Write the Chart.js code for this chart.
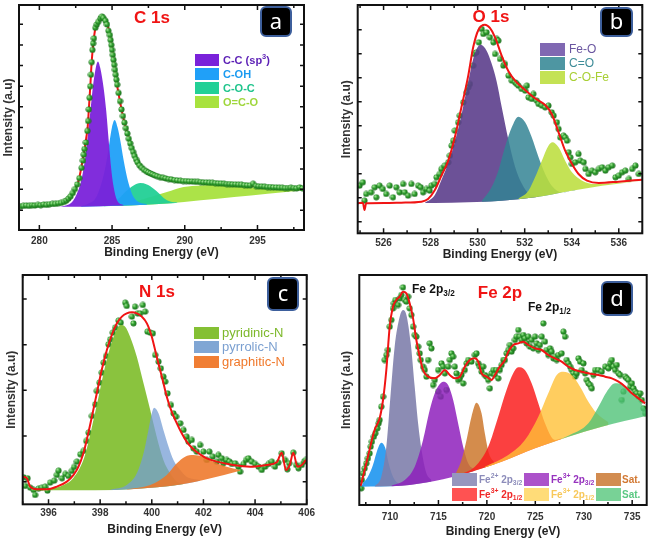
<!DOCTYPE html>
<html>
<head>
<meta charset="utf-8">
<script src="https://cdn.jsdelivr.net/npm/chart.js@4.4.1/dist/chart.umd.min.js"></script>
<style>
  body { margin: 0; background: #fff; width: 669px; height: 540px; position: relative; overflow: hidden; }
  canvas { position: absolute; }
</style>
</head>
<body>
<canvas id="panelA" width="335" height="270" style="left:0;top:0;width:335px;height:270px"></canvas>
<canvas id="panelB" width="334" height="270" style="left:335px;top:0;width:334px;height:270px"></canvas>
<canvas id="panelC" width="335" height="270" style="left:0;top:270px;width:335px;height:270px"></canvas>
<canvas id="panelD" width="334" height="270" style="left:335px;top:270px;width:334px;height:270px"></canvas>
<script>
// ---- panel a : C 1s ----
const aXTicks = [280, 285, 290, 295];
const aXMinor = [282.5, 287.5, 292.5, 297.5];
const aYTicks = [60, 123, 185, 248, 310, 373, 435, 498, 560, 623];
const aEnvelope = [[278.69,73],[280.76,78],[281.67,84],[282.02,95],[282.25,108],[282.47,125],[282.70,150],[282.89,190],[283.09,240],[283.23,280],[283.32,310],[283.41,370],[283.51,440],[283.60,510],[283.71,565],[283.85,610],[284.03,630],[284.26,644],[284.47,640],[284.65,625],[284.83,595],[284.99,550],[285.15,500],[285.34,440],[285.52,395],[285.70,355],[285.91,315],[286.14,278],[286.37,245],[286.60,218],[286.90,195],[287.29,180],[287.74,170],[288.32,160],[289.23,152],[290.38,147],[291.75,143],[293.36,138],[294.73,134],[296.11,129],[297.25,127],[298.17,126]];
const aBackground = [[278.6,70],[281.2,70],[284.2,72],[286.5,75],[288.8,80],[291.1,90],[293.4,100],[295.7,110],[298.2,120]];
const aCC = [[281.33,70],[281.67,73],[282.25,85],[282.63,115],[282.93,160],[283.16,220],[283.34,290],[283.51,360],[283.73,450],[284.03,510],[284.19,490],[284.42,430],[284.60,360],[284.77,270],[284.93,190],[285.11,130],[285.34,90],[285.80,75]];
const aCOH = [[282.82,71],[283.28,78],[283.85,95],[284.19,130],[284.54,190],[284.77,250],[284.99,310],[285.18,333],[285.38,310],[285.57,270],[285.80,210],[286.03,160],[286.25,125],[286.48,100],[286.83,85],[287.40,78]];
const aCOC = [[284.42,73],[285.11,85],[285.57,100],[286.03,120],[286.48,135],[286.94,142],[287.40,138],[287.86,125],[288.20,112],[288.55,97],[289.00,86],[289.50,83]];
const aOCO = [[284.88,73],[286.48,85],[287.63,100],[288.77,115],[289.92,130],[291.07,135],[292.21,137],[293.36,135],[294.50,130],[295.65,125],[297.02,122],[298.20,120]];
const aDots = [[278.7,72],[278.9,73],[279.1,74],[279.3,73],[279.5,75],[279.7,74],[279.9,76],[280.1,75],[280.3,77],[280.5,76],[280.7,78],[280.9,79],[281.1,79],[281.3,81],[281.5,82],[281.7,85],[281.85,89],[282.0,95],[282.15,102],[282.3,112],[282.45,124],[282.6,138],[282.75,157],[282.9,188],[283.0,210],[283.05,228],[283.1,245],[283.2,265],[283.3,300],[283.35,330],[283.4,365],[283.45,400],[283.5,435],[283.55,470],[283.6,508],[283.65,545],[283.7,565],[283.75,580],[283.85,612],[283.95,622],[284.05,630],[284.2,640],[284.3,646],[284.4,642],[284.55,633],[284.65,622],[284.75,603],[284.85,590],[284.9,575],[284.95,560],[285.0,545],[285.05,530],[285.1,515],[285.15,500],[285.2,485],[285.25,470],[285.3,455],[285.35,440],[285.45,415],[285.55,390],[285.65,365],[285.75,345],[285.85,325],[285.95,308],[286.05,292],[286.15,276],[286.25,262],[286.35,248],[286.45,236],[286.55,224],[286.65,214],[286.75,205],[286.9,195],[287.05,188],[287.2,182],[287.35,178],[287.5,174],[287.65,171],[287.8,168],[287.95,165],[288.1,163],[288.3,160],[288.5,158],[288.7,156],[288.9,154],[289.1,153],[289.3,151],[289.5,150],[289.7,149],[289.9,148],[290.1,148],[290.3,147],[290.5,147],[290.7,146],[290.9,146],[291.1,145],[291.3,144],[291.5,144],[291.7,143],[291.9,143],[292.1,142],[292.3,141],[292.5,141],[292.7,140],[292.9,139],[293.1,139],[293.3,138],[293.5,138],[293.7,137],[293.9,137],[294.1,136],[294.3,135],[294.5,135],[294.7,140],[294.9,133],[295.1,132],[295.3,132],[295.5,131],[295.7,130],[295.9,130],[296.1,129],[296.3,129],[296.5,128],[296.7,128],[296.9,127],[297.1,127],[297.3,128],[297.5,127],[297.7,126],[297.9,129],[298.1,126]];

// ---- panel b : O 1s ----
const bXTicks = [526, 528, 530, 532, 534, 536];
const bXMinor = [525, 527, 529, 531, 533, 535, 537];
const bYTicks = [35, 107, 179, 251, 323, 395, 467, 539, 611];
const bEnvelope = [[524.9,90],[525.12,92],[525.19,70],[525.26,90],[526.04,91],[526.75,92],[527.61,95],[527.89,103],[528.18,130],[528.46,173],[528.75,218],[529.03,288],[529.31,378],[529.60,473],[529.81,558],[530.03,610],[530.31,626],[530.52,616],[530.74,588],[531.02,533],[531.31,486],[531.59,458],[532.02,430],[532.44,405],[532.87,385],[533.15,358],[533.44,303],[533.72,248],[534.01,208],[534.29,178],[534.65,158],[535.15,151],[536.00,155],[537.0,161]];
const bBackground = [[524.9,90],[528.18,91],[531.02,98],[532.44,108],[533.87,126],[535.29,143],[537.0,158]];
const bFeO = [[527.75,91],[528.18,115],[528.46,160],[528.75,210],[529.03,275],[529.31,355],[529.60,455],[529.88,540],[530.13,566],[530.38,548],[530.59,510],[530.81,455],[531.02,380],[531.31,280],[531.59,200],[531.87,150],[532.16,120],[532.59,112]];
const bCO = [[530.17,96],[530.59,138],[530.88,188],[531.16,258],[531.45,318],[531.73,350],[532.02,333],[532.30,288],[532.59,228],[532.87,178],[533.15,143],[533.58,123],[534.15,131]];
const bCOFe = [[531.73,104],[532.16,128],[532.44,168],[532.73,218],[533.01,263],[533.18,273],[533.44,258],[533.72,218],[534.01,183],[534.44,158],[535.00,148],[535.72,150],[537.0,158]];
const bDots = [[524.98,143],[525.12,153],[525.19,98],[525.26,118],[525.47,123],[525.62,138],[525.69,108],[525.83,143],[525.97,133],[526.11,118],[526.26,143],[526.40,108],[526.54,138],[526.68,123],[526.83,148],[526.90,123],[527.04,113],[527.18,148],[527.32,118],[527.47,143],[527.58,138],[527.68,123],[527.82,133],[527.96,128],[528.03,143],[528.18,148],[528.25,168],[528.39,178],[528.46,193],[528.60,203],[528.75,213],[528.82,233],[528.89,263],[528.96,278],[529.03,308],[529.17,333],[529.24,353],[529.39,393],[529.53,423],[529.60,438],[529.67,448],[529.81,503],[529.85,538],[529.95,543],[530.05,573],[530.17,613],[530.24,598],[530.38,603],[530.52,588],[530.67,573],[530.81,583],[530.88,578],[530.74,538],[530.95,523],[531.09,503],[531.16,508],[531.31,473],[531.45,458],[531.59,453],[531.66,448],[531.73,443],[531.87,433],[532.02,428],[532.09,443],[532.16,408],[532.30,403],[532.37,418],[532.51,398],[532.59,388],[532.73,383],[532.87,378],[533.01,383],[533.15,363],[533.23,353],[533.37,333],[533.44,313],[533.51,288],[533.65,293],[533.72,288],[533.80,278],[533.87,243],[533.94,228],[534.01,208],[534.15,213],[534.29,238],[534.36,218],[534.51,213],[534.58,193],[534.72,178],[534.86,188],[535.00,183],[535.15,193],[535.29,198],[535.43,188],[535.57,198],[535.72,203],[535.86,168],[536.00,173],[536.14,183],[536.28,188],[536.43,163],[536.57,193],[536.71,203],[536.85,178]];

// ---- panel c : N 1s ----
const cXTicks = [396, 398, 400, 402, 404, 406];
const cXMinor = [395, 397, 399, 401, 403, 405];
const cYTicks = [68, 205, 342, 479, 616];
const cEnvelope = [[395.01,83],[395.16,78],[395.29,53],[395.55,45],[395.94,45],[396.32,53],[396.71,68],[396.97,88],[397.16,113],[397.35,153],[397.51,203],[397.68,263],[397.87,333],[398.06,403],[398.26,463],[398.45,508],[398.65,543],[398.84,563],[399.03,573],[399.23,576],[399.42,573],[399.61,563],[399.81,543],[400.00,503],[400.19,443],[400.39,383],[400.58,323],[400.77,278],[400.97,243],[401.16,213],[401.35,188],[401.61,165],[401.87,150],[402.13,138],[402.52,128],[403.16,118],[403.81,113],[404.45,118],[404.84,126],[405.03,155],[405.20,103],[405.35,120],[405.48,155],[405.64,113],[405.81,118],[405.97,133]];
const cBackground = [[395.0,41],[397.0,42],[398.6,43],[399.7,48],[400.7,55],[401.4,63],[402.0,73],[402.8,88],[403.55,103],[406.0,140]];
const cPyridinic = [[395.42,43],[396.06,47],[396.58,58],[396.97,80],[397.35,133],[397.55,188],[397.74,253],[397.94,323],[398.13,393],[398.32,453],[398.52,503],[398.71,533],[398.80,538],[398.97,533],[399.16,503],[399.42,443],[399.68,363],[399.94,283],[400.19,203],[400.45,133],[400.71,93],[400.97,68],[401.23,62]];
const cPyrrolic = [[398.39,44],[399.03,58],[399.42,93],[399.68,153],[399.87,223],[400.00,273],[400.09,290],[400.26,273],[400.45,223],[400.65,173],[400.84,133],[401.10,103],[401.35,83],[401.87,73]];
const cGraphitic = [[399.03,45],[399.94,58],[400.58,88],[400.97,123],[401.29,143],[401.61,148],[402.00,143],[402.39,128],[402.90,113],[403.42,103]];
const cDots = [[395.03,81],[395.10,55],[395.19,78],[395.29,50],[395.42,43],[395.48,28],[395.61,47],[395.74,50],[395.87,53],[395.96,41],[396.06,65],[396.22,71],[396.32,88],[396.39,101],[396.52,78],[396.65,91],[396.77,85],[396.90,100],[396.99,112],[397.10,128],[397.23,150],[397.35,160],[397.46,190],[397.55,215],[397.68,265],[397.81,300],[397.87,340],[397.97,365],[398.06,395],[398.13,425],[398.23,445],[398.32,480],[398.39,495],[398.49,515],[398.58,530],[398.71,551],[398.80,545],[398.97,605],[399.03,595],[399.23,563],[399.29,543],[399.35,593],[399.45,573],[399.55,573],[399.65,598],[399.74,578],[399.83,518],[399.94,515],[400.04,513],[400.13,448],[400.26,428],[400.35,408],[400.45,383],[400.52,368],[400.61,333],[400.74,298],[400.84,273],[400.94,263],[401.10,243],[401.23,223],[401.35,203],[401.42,188],[401.55,193],[401.61,168],[401.74,158],[401.87,178],[402.00,158],[402.13,133],[402.23,158],[402.36,143],[402.52,128],[402.58,148],[402.71,138],[402.77,123],[402.90,133],[403.01,128],[403.10,121],[403.23,123],[403.35,113],[403.42,98],[403.55,121],[403.65,133],[403.74,138],[403.87,128],[404.00,121],[404.13,113],[404.26,103],[404.39,113],[404.52,121],[404.65,128],[404.77,113],[404.90,125],[405.03,153],[405.16,133],[405.25,105],[405.32,123],[405.48,155],[405.59,118],[405.68,108],[405.81,118],[405.90,128],[405.97,133]];

// ---- panel d : Fe 2p ----
const dXTicks = [710, 715, 720, 725, 730, 735];
const dXMinor = [707.5, 712.5, 717.5, 722.5, 727.5, 732.5];
const dEnvelope = [[706.97,57],[707.72,145],[708.41,225],[708.93,260],[709.28,315],[709.62,405],[709.97,535],[710.31,595],[710.66,615],[711.00,625],[711.34,640],[711.69,635],[712.03,605],[712.38,560],[712.72,495],[713.07,445],[713.41,405],[713.93,385],[714.62,380],[715.14,390],[715.66,405],[716.17,390],[716.69,380],[717.21,385],[717.72,415],[718.24,435],[718.76,440],[719.10,430],[719.45,395],[719.97,385],[720.48,375],[720.83,390],[721.34,415],[721.86,435],[722.21,460],[722.72,480],[723.24,485],[723.76,490],[724.28,480],[724.97,470],[725.66,465],[726.34,450],[727.03,440],[727.72,430],[728.41,415],[729.10,405],[729.79,400],[730.48,395],[731.52,390],[732.21,385],[732.90,380],[733.59,370],[734.28,355],[734.97,335],[735.66,320],[736.34,305]];
const dBackground = [[706.8,55],[711.17,58],[714.62,72],[718.07,97],[721.52,130],[724.97,170],[728.41,205],[731.86,235],[736.6,268]];
const dFe2Low = [[707.03,56],[707.21,65],[707.72,85],[708.24,120],[708.69,165],[709.10,187],[709.52,170],[709.86,125],[710.31,85],[711.0,60]];
const dFe2p32 = [[708.41,56],[709.10,85],[709.62,175],[710.07,335],[710.48,475],[711.0,565],[711.34,585],[711.69,570],[712.14,485],[712.55,355],[712.9,245],[713.31,155],[713.76,95],[714.28,75]];
const dFe3p32 = [[710.14,58],[711.52,75],[712.55,115],[713.41,195],[714.10,285],[714.62,335],[715.14,363],[715.48,370],[716.0,360],[716.52,315],[717.03,245],[717.55,175],[718.07,125],[718.76,105]];
const dSat1 = [[716.69,88],[717.38,135],[717.9,195],[718.41,265],[718.93,307],[719.45,275],[719.79,215],[720.21,155],[720.83,125]];
const dFe3p12a = [[717.03,90],[718.76,115],[720.14,175],[721.17,265],[722.03,345],[722.72,395],[723.24,413],[723.93,405],[724.62,365],[725.31,305],[726.0,245],[727.03,195],[727.72,200]];
const dFe3p12b = [[719.79,115],[722.21,150],[723.93,195],[725.31,265],[726.34,335],[727.21,390],[727.9,400],[728.76,390],[729.62,355],[730.48,310],[731.34,275],[732.55,248]];
const dSat2 = [[725.66,178],[728.41,208],[730.48,245],[731.52,295],[732.38,340],[733.24,365],[734.1,360],[734.97,340],[735.66,315],[736.6,280]];
const dDots = [[707.03,50],[707.10,75],[707.21,95],[707.38,110],[707.55,125],[707.72,140],[707.90,155],[708.00,175],[708.14,190],[708.34,205],[708.48,215],[708.69,230],[708.83,245],[708.93,255],[709.10,295],[709.28,325],[709.45,435],[709.62,450],[709.79,465],[709.97,535],[710.14,555],[710.31,590],[710.41,605],[710.55,615],[710.83,600],[711.00,620],[711.17,630],[711.34,653],[711.52,615],[711.69,610],[711.86,625],[712.03,590],[712.21,570],[712.38,535],[712.55,510],[712.72,505],[712.90,475],[713.07,455],[713.17,435],[713.41,415],[713.59,405],[713.76,385],[713.93,435],[714.10,485],[714.28,470],[714.45,360],[714.62,375],[714.97,405],[714.97,340],[715.24,325],[715.83,345],[715.31,425],[715.48,415],[715.66,395],[716.00,415],[716.17,435],[716.34,455],[716.52,445],[716.69,415],[716.86,395],[717.03,375],[717.21,380],[717.38,390],[717.55,365],[717.72,405],[717.90,425],[718.07,435],[718.41,430],[718.76,450],[718.93,455],[719.10,425],[719.28,415],[719.45,400],[719.62,415],[719.79,390],[719.97,385],[720.14,375],[720.31,350],[720.48,395],[720.66,405],[720.83,390],[721.00,405],[721.17,380],[721.34,405],[721.52,420],[721.69,435],[721.86,435],[722.03,455],[722.21,465],[722.38,480],[722.55,460],[722.72,470],[722.90,495],[723.07,505],[723.24,525],[723.41,505],[723.59,495],[723.76,510],[723.93,500],[724.10,485],[724.28,505],[724.45,475],[724.62,495],[724.79,470],[724.97,505],[725.14,485],[725.31,465],[725.48,480],[725.66,505],[725.83,545],[726.00,490],[726.17,465],[726.34,450],[726.52,470],[726.69,460],[726.86,440],[727.03,445],[727.21,435],[727.38,450],[727.72,455],[727.90,520],[728.07,505],[728.24,435],[728.41,425],[728.59,415],[728.76,405],[728.93,395],[729.10,385],[729.28,395],[729.45,440],[729.62,430],[729.79,405],[729.97,425],[730.14,395],[730.31,375],[730.48,365],[730.66,360],[730.83,350],[731.00,390],[731.17,405],[731.52,405],[731.86,400],[732.21,415],[732.55,410],[732.72,425],[732.90,435],[733.07,415],[733.24,405],[733.41,420],[733.59,395],[733.76,390],[733.93,315],[734.10,340],[734.28,385],[734.45,380],[734.62,375],[734.79,355],[734.97,365],[735.14,350],[735.31,340],[735.48,335],[735.66,325],[735.83,335],[736.00,315],[736.17,290],[736.34,275]];

const FONT = '"Liberation Sans", Arial, sans-serif';
const pts = arr => arr.map(([x, y]) => ({ x, y }));

// small shaded sphere used for the measured points
function makeDot(r) {
  const c = document.createElement('canvas');
  c.width = c.height = 2 * r + 1;
  const g = c.getContext('2d');
  const grad = g.createRadialGradient(r - 0.8, r - 0.8, 0.3, r + 0.5, r + 0.5, r + 0.5);
  grad.addColorStop(0, '#a8e89a');
  grad.addColorStop(0.45, '#2f9f2f');
  grad.addColorStop(1, '#145f14');
  g.fillStyle = grad;
  g.beginPath();
  g.arc(r + 0.5, r + 0.5, r, 0, Math.PI * 2);
  g.fill();
  return c;
}
const dotImg = makeDot(3);

function richText(ctx, x, y, parts, size, weight, color) {
  let cx = x;
  ctx.fillStyle = color;
  ctx.textBaseline = 'middle';
  ctx.textAlign = 'left';
  for (const [t, mode] of parts) {
    const s = mode ? size * 0.68 : size;
    ctx.font = weight + ' ' + s + 'px ' + FONT;
    const dy = mode === 'sup' ? -size * 0.35 : mode === 'sub' ? size * 0.32 : 0;
    ctx.fillText(t, cx, y + dy);
    cx += ctx.measureText(t).width;
  }
}

// frame with inward ticks on the plot box
const framePlugin = {
  id: 'frame',
  afterDraw(chart, args, o) {
    const { ctx, chartArea: a } = chart;
    const xs = chart.scales.x, ys = chart.scales.y;
    ctx.save();
    ctx.strokeStyle = '#111';
    ctx.lineWidth = 1.5;
    ctx.beginPath();
    const xt = (list, len) => list.forEach(v => {
      const px = xs.getPixelForValue(v);
      if (px < a.left || px > a.right) return;
      ctx.moveTo(px, a.bottom); ctx.lineTo(px, a.bottom - len);
      if (o.mirror) { ctx.moveTo(px, a.top); ctx.lineTo(px, a.top + len); }
    });
    xt(o.xMajor, 5);
    xt(o.xMinor, 3);
    (o.yTicks || []).forEach(v => {
      const py = ys.getPixelForValue(v);
      ctx.moveTo(a.left, py); ctx.lineTo(a.left + 4, py);
      if (o.mirror) { ctx.moveTo(a.right, py); ctx.lineTo(a.right - 4, py); }
    });
    ctx.stroke();
    ctx.lineWidth = 2;
    ctx.strokeRect(a.left, a.top, a.right - a.left, a.bottom - a.top);
    ctx.restore();
  }
};

// panel title, letter box, legend and notes
const decorPlugin = {
  id: 'decor',
  afterDraw(chart, args, o) {
    const ctx = chart.ctx;
    ctx.save();
    ctx.fillStyle = '#f01414';
    ctx.font = 'bold 17px ' + FONT;
    ctx.textAlign = 'center';
    ctx.textBaseline = 'middle';
    ctx.fillText(o.title, o.titleX, o.titleY);

    const b = o.box;
    ctx.beginPath();
    ctx.roundRect(b.x, b.y, b.w, b.h, 5);
    ctx.fillStyle = '#000';
    ctx.fill();
    ctx.lineWidth = 2;
    ctx.strokeStyle = '#3d5f9c';
    ctx.stroke();
    ctx.fillStyle = '#fff';
    ctx.font = '22px "Noto Sans", sans-serif';
    ctx.textAlign = 'center';
    ctx.fillText(b.letter, b.x + b.w / 2, b.y + b.h / 2 + 1);

    for (const it of o.legend) {
      ctx.fillStyle = it.sw;
      ctx.fillRect(it.x, it.y, it.w, it.h);
      richText(ctx, it.tx, it.y + it.h / 2 + 0.5, it.parts, it.size, it.weight, it.color);
    }
    (o.notes || []).forEach(n => richText(ctx, n.x, n.y, n.parts, 12, 'bold', '#111'));
    ctx.restore();
  }
};

function makePanel(id, p) {
  const datasets = [{
    data: pts(p.bg), borderColor: 'rgba(0,0,0,0)', borderWidth: 1,
    pointRadius: 0, fill: false, order: 90
  }];
  p.fills.forEach(f => datasets.push({
    data: pts(f.data), borderColor: 'rgba(0,0,0,0)', borderWidth: 1,
    backgroundColor: f.color, pointRadius: 0, fill: 0, order: f.order
  }));
  datasets.push({
    data: pts(p.envelope), borderColor: '#f01414', borderWidth: 2,
    pointRadius: 0, fill: false, order: 1
  });
  datasets.push({
    data: pts(p.dots), showLine: false, pointStyle: dotImg, pointRadius: 3,
    order: p.dotsOnTop ? 0 : 50
  });

  new Chart(document.getElementById(id), {
    type: 'line',
    data: { datasets },
    options: {
      responsive: false,
      animation: false,
      events: [],
      layout: { padding: { left: 0, top: p.top, right: p.right, bottom: 0 } },
      elements: { line: { cubicInterpolationMode: 'monotone' } },
      scales: {
        x: {
          type: 'linear', min: p.xMin, max: p.xMax,
          afterBuildTicks: s => { s.ticks = p.xTicks.map(v => ({ value: v })); },
          afterFit: s => { s.height = p.xHeight; },
          grid: { display: false, drawTicks: false },
          border: { display: false },
          ticks: { color: '#333', padding: p.tickPad, maxRotation: 0, autoSkip: false,
                   font: { family: FONT, size: 10, weight: 'bold' } },
          title: { display: true, text: 'Binding Energy (eV)', color: '#222',
                   font: { family: FONT, size: 12, weight: 'bold' },
                   padding: { top: 0, bottom: p.titleBottom } }
        },
        y: {
          type: 'linear', min: 0, max: p.yMax,
          afterFit: s => { s.width = p.yWidth; },
          ticks: { display: false },
          grid: { display: false },
          border: { display: false },
          title: { display: true, text: 'Intensity (a.u)', color: '#333',
                   font: { family: FONT, size: 12, weight: 'bold' },
                   padding: { top: p.yTitlePad, bottom: 0 } }
        }
      },
      plugins: {
        legend: { display: false },
        tooltip: { enabled: false },
        frame: { xMajor: p.xTicks, xMinor: p.xMinor, yTicks: p.yTicks, mirror: p.mirror },
        decor: p.decor
      }
    },
    plugins: [framePlugin, decorPlugin]
  });
}

const row = (x, y, w, h, tx, sw, color, parts, size, weight) =>
  ({ x, y, w, h, tx, sw, color, parts, size, weight });

makePanel('panelA', {
  xMin: 278.6, xMax: 298.2, yMax: 681, top: 3, right: 31, yWidth: 19, xHeight: 40,
  tickPad: 5, titleBottom: 10, yTitlePad: 1, mirror: true,
  xTicks: aXTicks, xMinor: aXMinor, yTicks: aYTicks,
  bg: aBackground, envelope: aEnvelope, dots: aDots, dotsOnTop: true,
  fills: [
    { data: aCC, color: 'rgba(122,34,218,0.95)', order: 2 },
    { data: aCOH, color: 'rgba(32,160,248,0.95)', order: 3 },
    { data: aCOC, color: 'rgba(34,208,150,0.95)', order: 4 },
    { data: aOCO, color: 'rgba(168,226,62,0.95)', order: 5 }
  ],
  decor: {
    title: 'C 1s', titleX: 152, titleY: 18,
    box: { x: 261, y: 7, w: 30, h: 29, letter: 'a' },
    legend: [
      row(195, 54, 24, 12, 223, 'rgb(122,34,218)', '#5b1fb5', [['C-C (sp', ''], ['3', 'sup'], [')', '']], 11, 'bold'),
      row(195, 68, 24, 12, 223, 'rgb(32,160,248)', '#1a9af0', [['C-OH', '']], 11, 'bold'),
      row(195, 82, 24, 12, 223, 'rgb(34,208,150)', '#1fc48c', [['C-O-C', '']], 11, 'bold'),
      row(195, 96, 24, 12, 223, 'rgb(168,226,62)', '#9ed63a', [['O=C-O', '']], 11, 'bold')
    ]
  }
});

makePanel('panelB', {
  xMin: 524.9, xMax: 537.0, yMax: 685, top: 5, right: 26.7, yWidth: 22.7, xHeight: 36.7,
  tickPad: 4, titleBottom: 8, yTitlePad: 4.5, mirror: true,
  xTicks: bXTicks, xMinor: bXMinor, yTicks: bYTicks,
  bg: bBackground, envelope: bEnvelope, dots: bDots, dotsOnTop: false,
  fills: [
    { data: bFeO, color: 'rgba(92,62,140,0.9)', order: 5 },
    { data: bCO, color: 'rgba(52,132,148,0.85)', order: 4 },
    { data: bCOFe, color: 'rgba(188,222,62,0.88)', order: 3 }
  ],
  decor: {
    title: 'O 1s', titleX: 156, titleY: 17,
    box: { x: 266, y: 8, w: 31, h: 28, letter: 'b' },
    legend: [
      row(205, 43, 25, 13, 234, 'rgb(128,104,178)', '#6a56a0', [['Fe-O', '']], 12, 'normal'),
      row(205, 57, 25, 13, 234, 'rgb(78,150,162)', '#3e8c98', [['C=O', '']], 12, 'normal'),
      row(205, 71, 25, 13, 234, 'rgb(196,226,84)', '#a8cf34', [['C-O-Fe', '']], 12, 'normal')
    ]
  }
});

makePanel('panelC', {
  xMin: 395.0, xMax: 406.0, yMax: 688, top: 5, right: 28.3, yWidth: 22.7, xHeight: 35.7,
  tickPad: 3, titleBottom: 3, yTitlePad: 4.5, mirror: true,
  xTicks: cXTicks, xMinor: cXMinor, yTicks: cYTicks,
  bg: cBackground, envelope: cEnvelope, dots: cDots, dotsOnTop: false,
  fills: [
    { data: cPyridinic, color: 'rgba(132,192,52,0.95)', order: 5 },
    { data: cPyrrolic, color: 'rgba(118,158,212,0.75)', order: 4 },
    { data: cGraphitic, color: 'rgba(238,118,40,0.88)', order: 3 }
  ],
  decor: {
    title: 'N 1s', titleX: 157, titleY: 22,
    box: { x: 268, y: 8, w: 30, h: 32, letter: 'c' },
    legend: [
      row(194, 57, 25, 12, 222, 'rgb(132,192,52)', '#7cb82a', [['pyridinic-N', '']], 13, 'normal'),
      row(194, 71, 25, 12, 222, 'rgb(128,166,212)', '#7a9fd0', [['pyrrolic-N', '']], 13, 'normal'),
      row(194, 86, 25, 12, 222, 'rgb(240,126,52)', '#f0782a', [['graphitic-N', '']], 13, 'normal')
    ]
  }
});

makePanel('panelD', {
  xMin: 706.83, xMax: 736.5, yMax: 690, top: 5, right: 22.3, yWidth: 24.3, xHeight: 35,
  tickPad: 6, titleBottom: 1, yTitlePad: 4.5, mirror: false,
  xTicks: dXTicks, xMinor: dXMinor, yTicks: [],
  bg: dBackground, envelope: dEnvelope, dots: dDots, dotsOnTop: false,
  fills: [
    { data: dFe2Low, color: 'rgba(30,150,240,0.9)', order: 9 },
    { data: dFe2p32, color: 'rgba(128,128,172,0.9)', order: 8 },
    { data: dFe3p32, color: 'rgba(142,32,188,0.85)', order: 7 },
    { data: dSat1, color: 'rgba(205,120,45,0.85)', order: 6 },
    { data: dFe3p12a, color: 'rgba(250,30,30,0.85)', order: 5 },
    { data: dFe3p12b, color: 'rgba(255,192,55,0.8)', order: 4 },
    { data: dSat2, color: 'rgba(80,195,120,0.8)', order: 3 }
  ],
  decor: {
    title: 'Fe 2p', titleX: 165, titleY: 23,
    box: { x: 267, y: 12, w: 30, h: 33, letter: 'd' },
    legend: [
      row(117, 203, 25, 13, 144, 'rgb(150,150,190)', '#8c8cba', [['Fe', ''], ['2+', 'sup'], [' 2p', ''], ['3/2', 'sub']], 10, 'bold'),
      row(117, 218, 25, 13, 144, 'rgb(255,82,82)', '#f02828', [['Fe', ''], ['3+', 'sup'], [' 2p', ''], ['1/2', 'sub']], 10, 'bold'),
      row(189, 203, 25, 13, 216, 'rgb(172,82,202)', '#9632be', [['Fe', ''], ['3+', 'sup'], [' 2p', ''], ['3/2', 'sub']], 10, 'bold'),
      row(189, 218, 25, 13, 216, 'rgb(255,220,120)', '#f8c85a', [['Fe', ''], ['3+', 'sup'], [' 2p', ''], ['1/2', 'sub']], 10, 'bold'),
      row(261, 203, 25, 13, 287, 'rgb(210,140,80)', '#d27832', [['Sat.', '']], 10, 'bold'),
      row(261, 218, 25, 13, 287, 'rgb(120,210,150)', '#5ac882', [['Sat.', '']], 10, 'bold')
    ],
    notes: [
      { x: 77, y: 20, parts: [['Fe 2p', ''], ['3/2', 'sub']] },
      { x: 193, y: 38, parts: [['Fe 2p', ''], ['1/2', 'sub']] }
    ]
  }
});
</script>
</body>
</html>
